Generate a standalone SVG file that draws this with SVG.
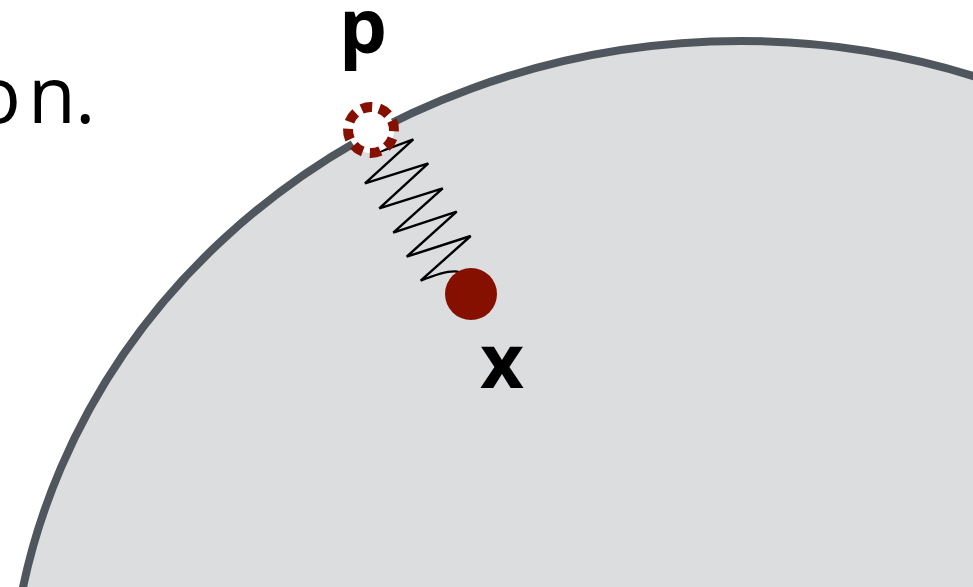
<svg xmlns="http://www.w3.org/2000/svg" width="973" height="587" viewBox="0 0 973 587">
  <style>
    .label { font-family: "Open Sans", "Liberation Sans", sans-serif; font-weight: bold; font-size: 76px; fill: #000; }
    .body { font-family: "Open Sans", "Liberation Sans", sans-serif; font-size: 78px; fill: #000; }
    .region { fill: #dcdddf; stroke: #50565d; stroke-width: 8; }
    .spring { fill: none; stroke: #000; stroke-width: 2.4; stroke-linejoin: miter; }
    .red { fill: #851000; }
    .ghost { fill: #fff; stroke: #851000; stroke-width: 10; }
  </style>
  <rect width="973" height="587" fill="#fff"/>
  <text class="body" x="-26 28 75" y="123">on.</text>
  <g id="region">
    <ellipse class="region" cx="740.7" cy="716" rx="731" ry="675"/>
  </g>
  <g id="connectors">
    <path class="spring" d="M 374 154 L 413.3 139.3 L 365 183.3 L 428.3 163.3 L 379.3 208.3 L 442.7 188.3 L 393.3 232.7 L 456.7 211.7 L 406.7 256.7 L 470.7 236 L 420.7 280.7 Q 452 268 460 272.7 L 463 277"/>
  </g>
  <g id="node-p">
    <circle class="ghost" cx="371" cy="130" r="23" pathLength="80" stroke-dasharray="6 4" transform="rotate(-24 371 130)"/>
    <text class="label" x="339" y="53">p</text>
  </g>
  <g id="node-x">
    <circle class="red" cx="471" cy="294" r="26"/>
    <text class="label" x="480" y="388">x</text>
  </g>
</svg>
